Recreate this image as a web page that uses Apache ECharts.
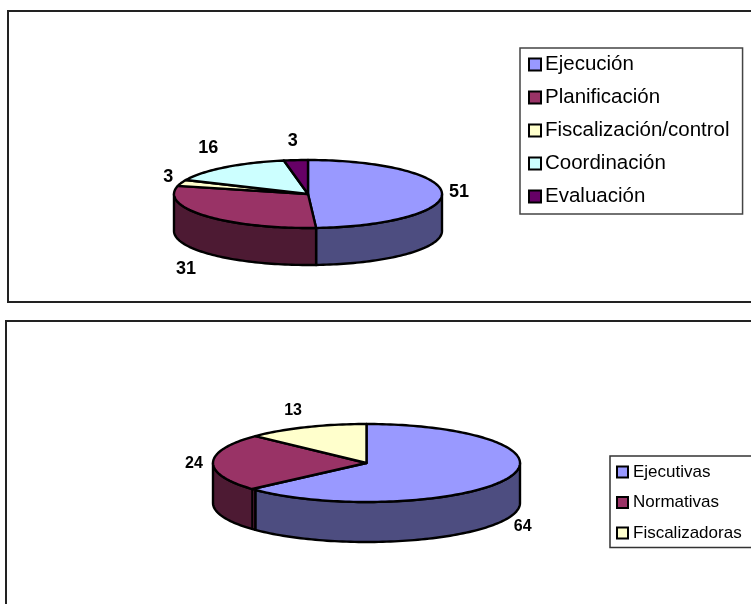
<!DOCTYPE html>
<html>
<head>
<meta charset="utf-8">
<title>Funciones y tipos</title>
<style>
  html, body { margin: 0; padding: 0; background: #fff; }
  #chart { width: 751px; height: 604px; }
</style>
<script src="https://cdn.jsdelivr.net/npm/echarts@6/dist/echarts.min.js"></script>
</head>
<body>
<div id="chart"></div>
<script>
// Slice names and values of the two pies
const funcionesNames = ['Ejecución', 'Planificación', 'Fiscalización/control', 'Coordinación', 'Evaluación'];
const funcionesValues = [51, 31, 3, 16, 3];
const tiposNames = ['Ejecutivas', 'Normativas', 'Fiscalizadoras'];
const tiposValues = [64, 24, 13];

// Palette: lid colour and wall colour per slice
const funcionesColors = ['#9999FF', '#993366', '#FFFFCC', '#CCFFFF', '#660066'];
const funcionesWalls = ['#4D4D80', '#4D1A33', '#808066', '#668080', '#330033'];
const tiposColors = ['#9999FF', '#993366', '#FFFFCC'];
const tiposWalls = ['#4D4D80', '#4D1A33', '#808066'];

// Pie geometry in pixels; labelShift moves each label away from the rim point at mid-slice
const funcionesPie = {
  cx: 308, cy: 194, rx: 134, ry: 34, depth: 37, fontSize: 18, seam: 0,
  labelShift: [[17, -1], [-19, 53], [-13, -6], [-17, -19], [-3, -19]]
};
const tiposPie = {
  cx: 366.5, cy: 463, rx: 153.5, ry: 39, depth: 40, fontSize: 16, seam: 1.7,
  labelShift: [[16, 48], [-19, 1], [-13, -17]]
};

const INK = '#000';

function rimPoint(pie, deg, drop) {
  const t = deg * Math.PI / 180;
  return [pie.cx + pie.rx * Math.sin(t), pie.cy - pie.ry * Math.cos(t) + drop];
}

function arcPoints(pie, from, to, drop) {
  const steps = Math.max(2, Math.ceil(Math.abs(to - from) / 1.5));
  const pts = [];
  for (let i = 0; i <= steps; i++) {
    pts.push(rimPoint(pie, from + (to - from) * i / steps, drop));
  }
  return pts;
}

// One custom series per slice, so each slice also feeds the legend
function sliceSeries(names, values, colors, walls, pie) {
  const total = values.reduce((a, b) => a + b, 0);
  return names.map((name, idx) => {
    const before = values.slice(0, idx).reduce((a, b) => a + b, 0);
    return {
      type: 'custom',
      name: name,
      coordinateSystem: 'none',
      silent: true,
      z: 2,
      itemStyle: { color: colors[idx] },
      data: [[values[idx]]],
      renderItem: function (params, api) {
        const value = api.value(0);
        const start = before / total * 360;
        const end = (before + value) / total * 360;
        const children = [];
        const stroke = { stroke: INK, lineWidth: 2.4, lineJoin: 'round' };

        // The wall shows only along the front half of the rim
        let wallFrom = Math.max(start, 90);
        let wallTo = Math.min(end, 270);
        if (pie.seam) {
          if (idx === 0) wallTo -= pie.seam;
          if (idx === 1) wallFrom -= pie.seam;
        }
        if (wallFrom < wallTo) {
          const upper = arcPoints(pie, wallFrom, wallTo, 0);
          const lower = arcPoints(pie, wallTo, wallFrom, pie.depth);
          children.push({
            type: 'polygon',
            shape: { points: upper.concat(lower) },
            style: Object.assign({ fill: walls[idx] }, stroke)
          });
          // Second edge where the wall overlaps its neighbour
          if (pie.seam && idx === 1) {
            const top = rimPoint(pie, start, 0);
            const bottom = rimPoint(pie, start, pie.depth);
            children.push({
              type: 'line',
              shape: { x1: top[0], y1: top[1], x2: bottom[0], y2: bottom[1] },
              style: { stroke: INK, lineWidth: 2 }
            });
          }
        }

        // Lid: a wedge of the ellipse
        const lid = [[pie.cx, pie.cy]].concat(arcPoints(pie, start, end, 0));
        children.push({
          type: 'polygon',
          shape: { points: lid },
          style: Object.assign({ fill: colors[idx] }, stroke)
        });

        // Value label
        const anchor = rimPoint(pie, (start + end) / 2, 0);
        const shift = pie.labelShift[idx];
        children.push({
          type: 'text',
          style: {
            x: anchor[0] + shift[0],
            y: anchor[1] + shift[1],
            text: String(value),
            fill: '#000',
            font: 'bold ' + pie.fontSize + 'px "Liberation Sans", Arial, sans-serif',
            align: 'center',
            verticalAlign: 'middle'
          }
        });
        return { type: 'group', children: children };
      }
    };
  });
}

function legendEntries(names, colors) {
  return names.map((name, i) => ({
    name: name,
    icon: 'rect',
    itemStyle: { color: colors[i], borderColor: '#000', borderWidth: 2 }
  }));
}

const chart = echarts.init(document.getElementById('chart'), null, { renderer: 'canvas' });

chart.setOption({
  animation: false,
  backgroundColor: '#fff',
  legend: [
    {
      orient: 'vertical',
      left: 520,
      top: 48,
      padding: [6, 13, 7, 8],
      itemWidth: 12,
      itemHeight: 12,
      itemGap: 12,
      borderColor: '#444',
      borderWidth: 1.5,
      backgroundColor: '#fff',
      selectedMode: false,
      textStyle: { color: '#000', fontFamily: '"Liberation Sans", Arial, sans-serif', fontSize: 20.5, padding: [0, 0, 0, -1] },
      data: legendEntries(funcionesNames, funcionesColors)
    },
    {
      orient: 'vertical',
      left: 610,
      top: 456,
      padding: [7.5, 30, 6, 6],
      itemWidth: 11,
      itemHeight: 11,
      itemGap: 13.5,
      borderColor: '#333',
      borderWidth: 1.5,
      backgroundColor: '#fff',
      selectedMode: false,
      textStyle: { color: '#000', fontFamily: '"Liberation Sans", Arial, sans-serif', fontSize: 17 },
      data: legendEntries(tiposNames, tiposColors)
    }
  ],
  graphic: [
    {
      type: 'polyline',
      silent: true,
      z: 0,
      shape: { points: [[760, 11], [8, 11], [8, 302], [760, 302]] },
      style: { fill: null, stroke: '#222', lineWidth: 2 }
    },
    {
      type: 'polyline',
      silent: true,
      z: 0,
      shape: { points: [[760, 321], [6, 321], [6, 610]] },
      style: { fill: null, stroke: '#222', lineWidth: 2 }
    }
  ],
  series: sliceSeries(funcionesNames, funcionesValues, funcionesColors, funcionesWalls, funcionesPie)
    .concat(sliceSeries(tiposNames, tiposValues, tiposColors, tiposWalls, tiposPie))
});
</script>
</body>
</html>
